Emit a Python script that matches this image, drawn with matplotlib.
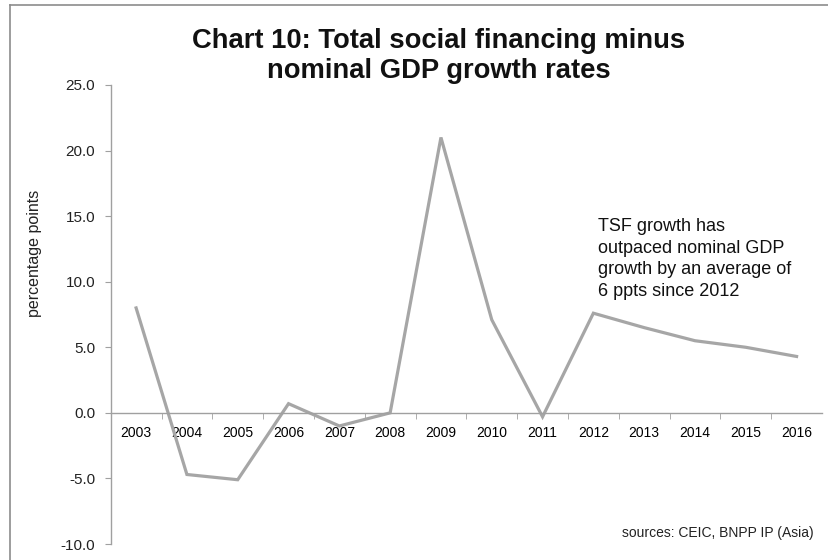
import matplotlib
matplotlib.use("Agg")
import matplotlib.pyplot as plt
from matplotlib.lines import Line2D

years = ["2003", "2004", "2005", "2006", "2007", "2008", "2009", "2010",
         "2011", "2012", "2013", "2014", "2015", "2016"]
values = [8.0, -4.7, -5.1, 0.7, -1.0, 0.0, 21.0, 7.1, -0.3, 7.6, 6.5, 5.5, 5.0, 4.3]
yticks = [-10, -5, 0, 5, 10, 15, 20, 25]

plt.rcParams['font.family'] = ['Liberation Sans', 'DejaVu Sans']

W, H = 829, 560
fig = plt.figure(figsize=(W / 100, H / 100), dpi=100)
ax = fig.add_axes([110.7 / W, 1 - 544 / H, (822 - 110.7) / W, (544 - 85) / H])

x = list(range(len(years)))
ax.plot(x, values, color="#A6A6A6", lw=2.3, solid_joinstyle="miter")

ax.set_xlim(-0.5, len(years) - 0.5)
ax.set_ylim(-10, 25)
ax.set_yticks(yticks)
ax.set_yticklabels([f"{v:.1f}" for v in yticks], fontsize=11, color="#222222")

ax.set_xticks(x)
ax.set_xticklabels(years, fontsize=12, color="#222222")
ax.tick_params(axis="x", which="major", length=0, pad=9.5)
ax.set_xticks([i + 0.5 for i in range(len(years) - 1)], minor=True)
ax.tick_params(axis="x", which="minor", length=4.3, color="#A0A0A0", direction="out")
ax.tick_params(axis="y", length=4.3, color="#A0A0A0", direction="out", pad=7)

for s in ["top", "right"]:
    ax.spines[s].set_visible(False)
ax.spines["bottom"].set_position(("data", 0))
ax.spines["bottom"].set_color("#A0A0A0")
ax.spines["left"].set_color("#A0A0A0")
ax.spines["bottom"].set_linewidth(1.0)
ax.spines["left"].set_linewidth(1.0)

fig.text(35 / W, 1 - 253 / H, "percentage points", rotation=90, ha="center", va="center",
         fontsize=11.5, color="#222222")

fig.text(439 / W, 1 - 55.5 / H, "Chart 10: Total social financing minus\nnominal GDP growth rates",
         ha="center", va="center", fontsize=19.7, fontweight="bold",
         linespacing=1.2, color="#111111")

ax.text(9.09, 14.85, "TSF growth has\noutpaced nominal GDP\ngrowth by an average of\n6 ppts since 2012",
        fontsize=13, va="top", ha="left", linespacing=1.36, color="#111111")

fig.text(814 / W, 1 - 533 / H, "sources: CEIC, BNPP IP (Asia)", ha="right", va="center",
         fontsize=10, color="#222222")

fig.add_artist(Line2D([10 / W, 1.0], [1 - 5 / H, 1 - 5 / H], transform=fig.transFigure,
                      color="#8C8C8C", lw=1.2))
fig.add_artist(Line2D([10 / W, 10 / W], [0.0, 1 - 5 / H], transform=fig.transFigure,
                      color="#8C8C8C", lw=1.2))

fig.savefig("out.png", dpi=100)
